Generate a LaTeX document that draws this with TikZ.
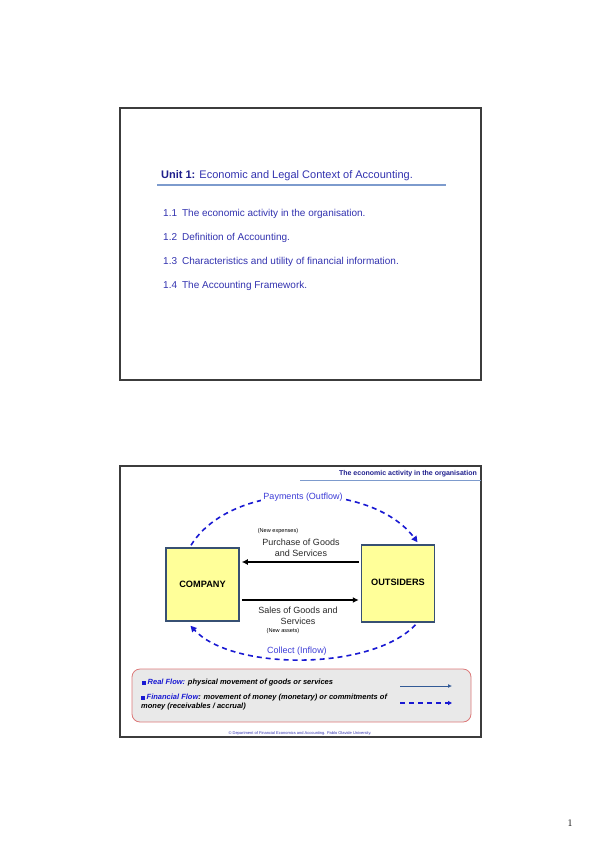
\documentclass[tikz,border=0pt]{standalone}
\usepackage{fontspec}
\setsansfont{Liberation Sans}
\usetikzlibrary{positioning,arrows.meta}
\definecolor{slideborder}{RGB}{60,60,60}
\definecolor{titleblue}{RGB}{30,30,140}
\definecolor{itemblue}{RGB}{50,50,175}
\definecolor{rulecol}{RGB}{125,155,205}
\definecolor{boxfill}{RGB}{255,255,153}
\definecolor{boxborder}{RGB}{55,80,115}
\definecolor{flowblue}{RGB}{25,25,210}
\definecolor{labelblue}{RGB}{60,60,215}
\definecolor{realblue}{RGB}{50,90,150}
\definecolor{legendfill}{RGB}{233,233,233}
\definecolor{legendborder}{RGB}{220,120,120}
\definecolor{textgrey}{RGB}{40,40,40}
\tikzset{basic/.style={font=\sffamily,inner sep=0pt}}
\tikzset{slide/.style={draw=slideborder,line width=1.2pt}}
\tikzset{item/.style={basic,anchor=west,text=itemblue,font=\sffamily\fontsize{10}{12}\selectfont}}
\tikzset{party/.style={basic,draw=boxborder,line width=1.5pt,fill=boxfill,minimum width=73pt,font=\sffamily\bfseries\fontsize{9.2}{11}\selectfont}}
\tikzset{flowtext/.style={basic,align=center,text=textgrey,font=\sffamily\fontsize{9}{11}\selectfont}}
\tikzset{note/.style={basic,font=\sffamily\fontsize{5.6}{6}\selectfont}}
\tikzset{money/.style={basic,text=labelblue,font=\sffamily\fontsize{9}{10}\selectfont}}
\tikzset{realflow/.style={-{Latex[length=6pt,width=6pt]},line width=1.3pt,shorten <=2pt,shorten >=2pt}}
\tikzset{finflow/.style={-{Triangle[length=6pt,width=6pt]},flowblue,line width=1.6pt,dash pattern=on 5pt off 4pt}}
\tikzset{legendtext/.style={basic,anchor=west,align=left,font=\sffamily\bfseries\itshape\fontsize{7.5}{9}\selectfont}}
\newcommand{\bulletsq}{\textcolor{flowblue}{\rule{3.5pt}{3.5pt}}\hspace{2pt}}

\begin{document}
\begin{tikzpicture}[x=1pt,y=-1pt]
    \useasboundingbox (0,0) rectangle (599,848);
    \draw[slide] (120,108) rectangle (481,380);
        \node[basic,anchor=west,text=itemblue,font=\sffamily\fontsize{11}{13}\selectfont] (unit) at (161,176)
            {\textcolor{titleblue}{\bfseries Unit 1:} Economic and Legal Context of Accounting.};
        \draw[rulecol,line width=1.4pt] (157,185) -- (446,185);
        \foreach \y/\t [count=\i] in {214/{1.1\enspace The economic activity in the organisation.},
                238/{1.2\enspace Definition of Accounting.},
                262/{1.3\enspace Characteristics and utility of financial information.},
                286/{1.4\enspace The Accounting Framework.}}
            \node[item] (item\i) at (163,\y) {\t};
    \draw[slide] (120,466) rectangle (481,737);
        \node[basic,anchor=east,text=titleblue,font=\sffamily\bfseries\fontsize{7}{8}\selectfont] (header) at (477,474)
            {The economic activity in the organisation};
        \draw[rulecol,line width=0.8pt] (300,480) -- (481,480);
        \node[party,minimum height=73pt] (company) at (202.5,584.5) {COMPANY};
        \node[party,minimum height=77pt,right=121pt of company,yshift=1pt] (outsiders) {\raisebox{2pt}{OUTSIDERS}};
            \path[draw,realflow] ([yshift=21.5pt]outsiders.west) -- ([yshift=22.5pt]company.east);
            \path[draw,realflow] ([yshift=-15.5pt]company.east) -- ([yshift=-16.5pt]outsiders.west);
        \node[flowtext] (purchase) at (301,547.5) {Purchase of Goods\\and Services};
        \node[note] (newexp) at (278,531) {(New expenses)};
        \node[flowtext] (sales) at (298,615.5) {Sales of Goods and\\Services};
        \node[note] (newassets) at (283,631) {(New assets)};
        \draw[finflow] ([shift={(-11.5,-2)}]company.north) .. controls (232,479) and (372,481) .. ([shift={(19.5,-2)}]outsiders.north);
        \node[money,fill=white,inner sep=2pt] (payments) at (303,497) {Payments (Outflow)};
        \draw[finflow] ([shift={(17.5,2)}]outsiders.south) .. controls (372,671) and (232,671) .. ([shift={(-12,4)}]company.south);
        \node[money] (collect) at (297,651) {Collect (Inflow)};
        \node[basic,draw=legendborder,line width=0.8pt,fill=legendfill,rounded corners=8pt,minimum width=339pt,minimum height=53pt] (legend) at (301.5,695.5) {};
        \node[legendtext] (real) at (142,683) {\bulletsq\textcolor{flowblue}{Real Flow:} physical movement of goods or services};
        \node[legendtext] (financial) at (141,702.5) {\bulletsq\textcolor{flowblue}{Financial Flow}: movement of money (monetary) or commitments of\\money (receivables / accrual)};
        \coordinate (realA) at (400,686);
        \coordinate (realB) at (452,686);
        \coordinate (finA) at (400,703);
        \coordinate (finB) at (452,703);
            \draw[-{Latex[length=4pt,width=4pt]},realblue,line width=1pt] (realA) -- (realB);
            \draw[-{Triangle[length=4pt,width=4pt]},flowblue,line width=1.4pt,dash pattern=on 5pt off 4pt] (finA) -- (finB);
        \node[basic,text=itemblue,font=\sffamily\fontsize{4}{5}\selectfont] (footer) at (300,733)
            {\copyright{} Department of Financial Economics and Accounting. Pablo Olavide University.};
    \node[inner sep=0pt,font=\fontsize{10}{12}\selectfont] (page) at (570,823) {1};
\end{tikzpicture}
\end{document}
